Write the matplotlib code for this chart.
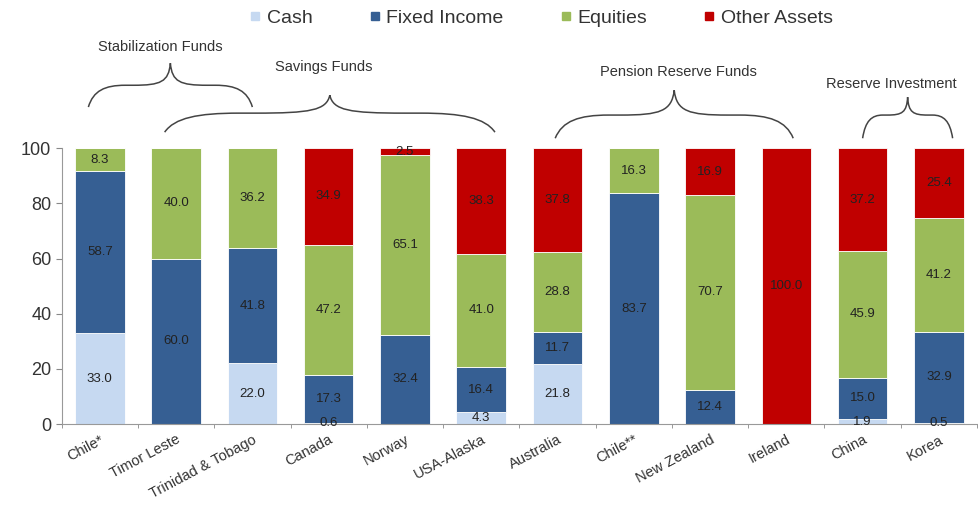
import numpy as np
import matplotlib.pyplot as plt
from matplotlib.path import Path
from matplotlib.patches import PathPatch
from matplotlib.lines import Line2D

plt.rcParams['font.family'] = ['Liberation Sans', 'DejaVu Sans']

# Data
countries = ['Chile*', 'Timor Leste', 'Trinidad & Tobago', 'Canada', 'Norway', 'USA-Alaska',
             'Australia', 'Chile**', 'New Zealand', 'Ireland', 'China', 'Korea']
cash = [33.0, 0, 22.0, 0.6, 0, 4.3, 21.8, 0, 0, 0, 1.9, 0.5]
fixed_income = [58.7, 60.0, 41.8, 17.3, 32.4, 16.4, 11.7, 83.7, 12.4, 0, 15.0, 32.9]
equities = [8.3, 40.0, 36.2, 47.2, 65.1, 41.0, 28.8, 16.3, 70.7, 0, 45.9, 41.2]
other = [0, 0, 0, 34.9, 2.5, 38.3, 37.8, 0, 16.9, 100.0, 37.2, 25.4]

series_names = ['Cash', 'Fixed Income', 'Equities', 'Other Assets']
colors = ['#C6D9F1', '#365F93', '#9BBB59', '#C00000']

# groups: name, span start, span end (in bar index units)
group_names = ['Stabilization Funds', 'Savings Funds', 'Pension Reserve Funds', 'Reserve Investment']
group_start = [-0.15, 0.85, 5.97, 10.0]
group_end = [2.0, 5.18, 9.09, 11.18]

fig = plt.figure(figsize=(9.79, 5.08), dpi=100)
ax = fig.add_axes([0.063, 0.165, 0.935, 0.5433])

x = np.arange(len(countries))
width = 0.65
bottom = np.zeros(len(countries))
for vals, c in zip([cash, fixed_income, equities, other], colors):
    vals = np.array(vals)
    ax.bar(x, vals, width, bottom=bottom, color=c, edgecolor='white', linewidth=0.6)
    for xi, b, v in zip(x, bottom, vals):
        if v > 0:
            ax.text(xi, b + v / 2, '%.1f' % v, ha='center', va='center',
                    fontsize=9.5, color='#222222')
    bottom += vals

ax.set_xlim(-0.5, len(countries) - 0.5)
ax.set_ylim(0, 100)
ax.set_yticks(range(0, 101, 20))
ax.tick_params(axis='y', labelsize=13, colors='#333333', length=4, color='#888888')
ax.set_xticks(x)
ax.set_xticklabels(countries, rotation=28, ha='right', rotation_mode='anchor',
                   fontsize=10.5, color='#333333')
ax.tick_params(axis='x', which='major', length=0, pad=6)
ax.set_xticks(np.arange(-0.5, len(countries), 1), minor=True)
ax.tick_params(axis='x', which='minor', length=3, color='#888888')
for s in ['top', 'right']:
    ax.spines[s].set_visible(False)
ax.spines['left'].set_color('#999999')
ax.spines['bottom'].set_color('#999999')


def brace(ax, x0, x1, y0, ym, yt):
    xc = (x0 + x1) / 2
    w = xc - x0
    h = yt - ym
    verts = [(x0, y0), (x0 + 0.06 * w, y0 + 0.75 * (ym - y0)), (x0 + 0.2 * w, ym), (x0 + 0.45 * w, ym),
             (xc - 0.45 * w, ym),
             (xc - 0.12 * w, ym), (xc - 0.02 * w, ym + 0.15 * h), (xc, yt),
             (xc + 0.02 * w, ym + 0.15 * h), (xc + 0.12 * w, ym), (xc + 0.45 * w, ym),
             (x1 - 0.45 * w, ym),
             (x1 - 0.2 * w, ym), (x1 - 0.06 * w, y0 + 0.75 * (ym - y0)), (x1, y0)]
    codes = [Path.MOVETO, Path.CURVE4, Path.CURVE4, Path.CURVE4,
             Path.LINETO,
             Path.CURVE4, Path.CURVE4, Path.CURVE4,
             Path.CURVE4, Path.CURVE4, Path.CURVE4,
             Path.LINETO,
             Path.CURVE4, Path.CURVE4, Path.CURVE4]
    ax.add_patch(PathPatch(Path(verts, codes), fill=False, edgecolor='#444444',
                           lw=1.1, clip_on=False))


brace_y = [(114.9, 122.8, 130.8), (105.8, 112.7, 119.2), (103.6, 112.0, 121.0), (103.6, 112.0, 118.5)]
label_pos = [(0.79, 136.6), (2.93, 129.3), (7.58, 127.5), (10.38, 123.2)]
for name, s, e, by, lp in zip(group_names, group_start, group_end, brace_y, label_pos):
    brace(ax, s, e, *by)
    ax.text(lp[0], lp[1], name, ha='center', va='center', fontsize=10.5,
            color='#333333', clip_on=False)

handles = [Line2D([], [], marker='s', linestyle='none', markersize=6,
                  markerfacecolor=c, markeredgecolor=c) for c in colors]
fig.legend(handles, series_names, loc='center', bbox_to_anchor=(541 / 979, 1 - 18 / 508),
           ncol=4, frameon=False, fontsize=14, handlelength=0.6, handletextpad=0.3,
           columnspacing=2.9, labelcolor='#333333')

fig.savefig('out.png', dpi=100)
